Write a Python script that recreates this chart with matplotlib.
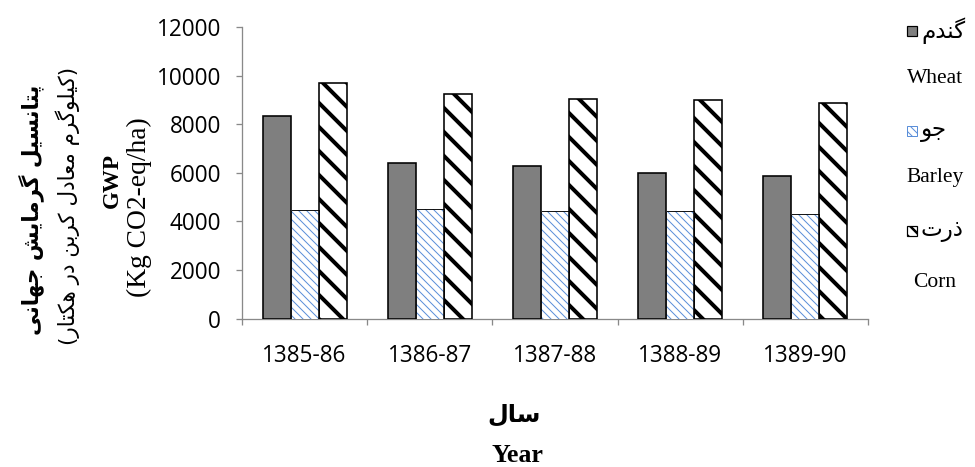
import matplotlib
matplotlib.use('Agg')
import matplotlib.pyplot as plt
from matplotlib.patches import Rectangle
import numpy as np

# --- Data ---
years = ['1385-86', '1386-87', '1387-88', '1388-89', '1389-90']
wheat = [8350, 6400, 6290, 6000, 5870]
barley = [4480, 4500, 4430, 4430, 4310]
corn = [9700, 9270, 9040, 9010, 8900]
y_ticks = [0, 2000, 4000, 6000, 8000, 10000, 12000]

crop_fa = ['گندم', 'جو', 'ذرت']
crop_en = ['Wheat', 'Barley', 'Corn']
ylabel_fa_1 = 'پتانسیل گرمایش جهانی'
ylabel_fa_2 = '(کیلوگرم معادل کربن در هکتار)'
xlabel_fa = 'سال'

# --- Persian shaping (no shaping engine in matplotlib) ---
# letter: (isolated, final, initial, medial); right-joining letters have no initial/medial
FORMS = {
    '\u0627': ('\uFE8D', '\uFE8E', None, None),
    '\u0628': ('\uFE8F', '\uFE90', '\uFE91', '\uFE92'),
    '\u062A': ('\uFE95', '\uFE96', '\uFE97', '\uFE98'),
    '\u062C': ('\uFE9D', '\uFE9E', '\uFE9F', '\uFEA0'),
    '\u062F': ('\uFEA9', '\uFEAA', None, None),
    '\u0630': ('\uFEAB', '\uFEAC', None, None),
    '\u0631': ('\uFEAD', '\uFEAE', None, None),
    '\u0633': ('\uFEB1', '\uFEB2', '\uFEB3', '\uFEB4'),
    '\u0634': ('\uFEB5', '\uFEB6', '\uFEB7', '\uFEB8'),
    '\u0639': ('\uFEC9', '\uFECA', '\uFECB', '\uFECC'),
    '\u0644': ('\uFEDD', '\uFEDE', '\uFEDF', '\uFEE0'),
    '\u0645': ('\uFEE1', '\uFEE2', '\uFEE3', '\uFEE4'),
    '\u0646': ('\uFEE5', '\uFEE6', '\uFEE7', '\uFEE8'),
    '\u0647': ('\uFEE9', '\uFEEA', '\uFEEB', '\uFEEC'),
    '\u0648': ('\uFEED', '\uFEEE', None, None),
    '\u067E': ('\uFB56', '\uFB57', '\uFB58', '\uFB59'),
    '\u06A9': ('\uFB8E', '\uFB8F', '\uFB90', '\uFB91'),
    '\u0643': ('\uFB8E', '\uFB8F', '\uFB90', '\uFB91'),
    '\u06AF': ('\uFB92', '\uFB93', '\uFB94', '\uFB95'),
    '\u06CC': ('\uFBFC', '\uFBFD', '\uFBFE', '\uFBFF'),
    '\u064A': ('\uFBFC', '\uFBFD', '\uFBFE', '\uFBFF'),
}


def shape(text):
    out = []
    for i, ch in enumerate(text):
        if ch not in FORMS:
            out.append(ch)
            continue
        f = FORMS[ch]
        prev = text[i - 1] if i > 0 else ''
        nxt = text[i + 1] if i < len(text) - 1 else ''
        join_prev = prev in FORMS and FORMS[prev][2] is not None
        join_next = nxt in FORMS and f[2] is not None
        if join_prev and join_next:
            out.append(f[3])
        elif join_prev:
            out.append(f[1])
        elif join_next:
            out.append(f[2])
        else:
            out.append(f[0])
    vis = ''.join(reversed(out))
    return vis.translate(str.maketrans('()', ')('))


W, H = 975, 467
fig = plt.figure(figsize=(W / 72, H / 72), dpi=72)


def fx(px):
    return px / W


def fy(py):
    return 1 - py / H


ax = fig.add_axes([fx(242), fy(318.5), fx(868) - fx(242), fy(27.3) - fy(318.5)])

x = np.arange(len(years))
bw = 0.224
axis_grey = '#898989'
hatch_blue = '#5b8fd9'
corn_hatch = '\\'
barley_hatch = '\\\\\\'

ax.bar(x - bw, wheat, bw, color='#7f7f7f', edgecolor='black', linewidth=1.6, zorder=3)

b_bars = ax.bar(x, barley, bw, facecolor='white', edgecolor=hatch_blue,
                hatch=barley_hatch, linewidth=0, zorder=3)
ax.bar(x, barley, bw, fill=False, edgecolor='black', linewidth=0.9, zorder=4)

with plt.rc_context({'hatch.linewidth': 4.0}):
    c_bars = ax.bar(x + bw, corn, bw, facecolor='white', edgecolor='black',
                    hatch=corn_hatch, linewidth=1.6, zorder=3)
for p in c_bars:
    if hasattr(p, 'set_hatch_linewidth'):
        p.set_hatch_linewidth(4.0)
for p in b_bars:
    if hasattr(p, 'set_hatch_linewidth'):
        p.set_hatch_linewidth(1.0)

ax.set_xlim(-0.5, len(years) - 0.5)
ax.set_ylim(0, 12000)
ax.set_yticks(y_ticks)
ax.set_yticklabels([str(v) for v in y_ticks], family='Open Sans', fontsize=22.5)
ax.set_xticks(np.arange(len(years) + 1) - 0.5)
ax.set_xticklabels([])
ax.set_xticks(x, minor=True)
ax.set_xticklabels(years, minor=True, family='Open Sans', fontsize=22.5)

for side in ['top', 'right']:
    ax.spines[side].set_visible(False)
for side in ['left', 'bottom']:
    ax.spines[side].set_color(axis_grey)
    ax.spines[side].set_linewidth(1.3)
ax.tick_params(axis='y', which='major', direction='out', length=6, width=1.3,
               color=axis_grey, pad=15)
ax.tick_params(axis='x', which='major', direction='out', length=6, width=1.3,
               color=axis_grey)
ax.tick_params(axis='x', which='minor', length=0, pad=26)

# y-axis title (four lines)
arabic = ['DejaVu Sans']
fig.text(fx(31), fy(210), shape(ylabel_fa_1), rotation=90, ha='center', va='center',
         family=arabic, fontweight='bold', fontsize=21.5)
fig.text(fx(68), fy(206), shape(ylabel_fa_2), rotation=90, ha='center', va='center',
         family=arabic, fontsize=21.5)
fig.text(fx(112), fy(180), 'GWP', rotation=90, ha='center', va='center',
         family='Liberation Serif', fontweight='bold', fontsize=23)
fig.text(fx(139), fy(207), '(Kg CO2-eq/ha)', rotation=90, ha='center', va='center',
         family='Liberation Serif', fontsize=27.5)

# x-axis title
fig.text(fx(514), fy(415), shape(xlabel_fa), ha='center', va='center',
         family=arabic, fontweight='bold', fontsize=24)
fig.text(fx(517), fy(462), 'Year', ha='center', va='baseline',
         family='Liberation Serif', fontweight='bold', fontsize=26)

# legend on the right
sq_top = [26, 126, 226]
en_base = [83, 182, 287]
styles = [dict(facecolor='#7f7f7f', edgecolor='black', linewidth=1.2),
          dict(facecolor='white', edgecolor=hatch_blue, hatch=barley_hatch, linewidth=1.0),
          dict(facecolor='white', edgecolor='black', hatch='\\\\', linewidth=1.2)]
hatch_lw = [1.0, 1.0, 2.5]
for i in range(3):
    with plt.rc_context({'hatch.linewidth': hatch_lw[i]}):
        r = Rectangle((fx(907), fy(sq_top[i] + 10)), fx(10), fy(0) - fy(10),
                      transform=fig.transFigure, **styles[i])
    if hasattr(r, 'set_hatch_linewidth'):
        r.set_hatch_linewidth(hatch_lw[i])
    fig.add_artist(r)
    fig.text(fx(921), fy(sq_top[i] + 5), shape(crop_fa[i]), ha='left', va='center',
             family=arabic, fontsize=23)
    fig.text(fx(935), fy(en_base[i]), crop_en[i], ha='center', va='baseline',
             family='Liberation Serif', fontsize=21.5)

fig.savefig('out.png', dpi=72)
